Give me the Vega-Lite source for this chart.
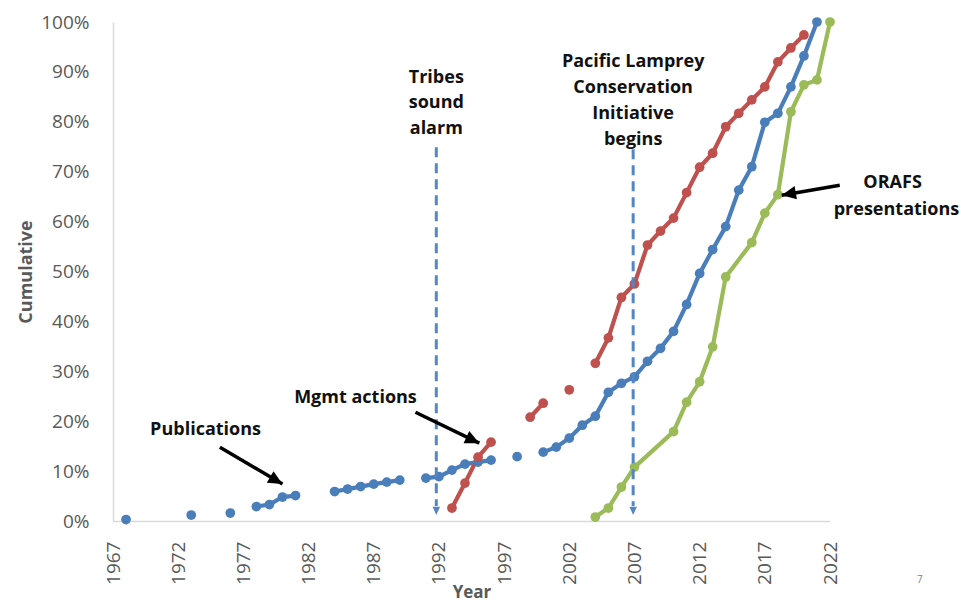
{
  "$schema": "https://vega.github.io/schema/vega-lite/v6.json",
  "width": 717,
  "height": 499,
  "autosize": "none",
  "padding": {"left": 113, "top": 22, "right": 131, "bottom": 81},
  "background": "white",
  "config": {"view": {"stroke": null}, "font": "Open Sans"},
  "datasets": {
    "series": [
      {"series": "Publications", "seg": "a", "year": 1968, "value": 0.3},
      {"series": "Publications", "seg": "b", "year": 1973, "value": 1.2},
      {"series": "Publications", "seg": "c", "year": 1976, "value": 1.6},
      {"series": "Publications", "seg": "d", "year": 1978, "value": 2.9},
      {"series": "Publications", "seg": "d", "year": 1979, "value": 3.3},
      {"series": "Publications", "seg": "d", "year": 1980, "value": 4.8},
      {"series": "Publications", "seg": "d", "year": 1981, "value": 5.1},
      {"series": "Publications", "seg": "e", "year": 1984, "value": 5.9},
      {"series": "Publications", "seg": "e", "year": 1985, "value": 6.4},
      {"series": "Publications", "seg": "e", "year": 1986, "value": 6.9},
      {"series": "Publications", "seg": "e", "year": 1987, "value": 7.4},
      {"series": "Publications", "seg": "e", "year": 1988, "value": 7.8},
      {"series": "Publications", "seg": "e", "year": 1989, "value": 8.2},
      {"series": "Publications", "seg": "f", "year": 1991, "value": 8.6},
      {"series": "Publications", "seg": "f", "year": 1992, "value": 8.9},
      {"series": "Publications", "seg": "f", "year": 1993, "value": 10.2},
      {"series": "Publications", "seg": "f", "year": 1994, "value": 11.4},
      {"series": "Publications", "seg": "f", "year": 1995, "value": 11.8},
      {"series": "Publications", "seg": "f", "year": 1996, "value": 12.2},
      {"series": "Publications", "seg": "g", "year": 1998, "value": 12.9},
      {"series": "Publications", "seg": "h", "year": 2000, "value": 13.8},
      {"series": "Publications", "seg": "h", "year": 2001, "value": 14.8},
      {"series": "Publications", "seg": "h", "year": 2002, "value": 16.6},
      {"series": "Publications", "seg": "h", "year": 2003, "value": 19.2},
      {"series": "Publications", "seg": "h", "year": 2004, "value": 21.0},
      {"series": "Publications", "seg": "h", "year": 2005, "value": 25.8},
      {"series": "Publications", "seg": "h", "year": 2006, "value": 27.6},
      {"series": "Publications", "seg": "h", "year": 2007, "value": 28.9},
      {"series": "Publications", "seg": "h", "year": 2008, "value": 32.0},
      {"series": "Publications", "seg": "h", "year": 2009, "value": 34.6},
      {"series": "Publications", "seg": "h", "year": 2010, "value": 38.0},
      {"series": "Publications", "seg": "h", "year": 2011, "value": 43.4},
      {"series": "Publications", "seg": "h", "year": 2012, "value": 49.6},
      {"series": "Publications", "seg": "h", "year": 2013, "value": 54.4},
      {"series": "Publications", "seg": "h", "year": 2014, "value": 59.0},
      {"series": "Publications", "seg": "h", "year": 2015, "value": 66.3},
      {"series": "Publications", "seg": "h", "year": 2016, "value": 71.0},
      {"series": "Publications", "seg": "h", "year": 2017, "value": 79.9},
      {"series": "Publications", "seg": "h", "year": 2018, "value": 81.7},
      {"series": "Publications", "seg": "h", "year": 2019, "value": 87.0},
      {"series": "Publications", "seg": "h", "year": 2020, "value": 93.2},
      {"series": "Publications", "seg": "h", "year": 2021, "value": 100},
      {"series": "Mgmt actions", "seg": "a", "year": 1993, "value": 2.6},
      {"series": "Mgmt actions", "seg": "a", "year": 1994, "value": 7.6},
      {"series": "Mgmt actions", "seg": "a", "year": 1995, "value": 12.8},
      {"series": "Mgmt actions", "seg": "a", "year": 1996, "value": 15.8},
      {"series": "Mgmt actions", "seg": "b", "year": 1999, "value": 20.8},
      {"series": "Mgmt actions", "seg": "b", "year": 2000, "value": 23.6},
      {"series": "Mgmt actions", "seg": "c", "year": 2002, "value": 26.3},
      {"series": "Mgmt actions", "seg": "d", "year": 2004, "value": 31.6},
      {"series": "Mgmt actions", "seg": "d", "year": 2005, "value": 36.7},
      {"series": "Mgmt actions", "seg": "d", "year": 2006, "value": 44.8},
      {"series": "Mgmt actions", "seg": "d", "year": 2007, "value": 47.5},
      {"series": "Mgmt actions", "seg": "d", "year": 2008, "value": 55.3},
      {"series": "Mgmt actions", "seg": "d", "year": 2009, "value": 58.1},
      {"series": "Mgmt actions", "seg": "d", "year": 2010, "value": 60.7},
      {"series": "Mgmt actions", "seg": "d", "year": 2011, "value": 65.8},
      {"series": "Mgmt actions", "seg": "d", "year": 2012, "value": 70.9},
      {"series": "Mgmt actions", "seg": "d", "year": 2013, "value": 73.7},
      {"series": "Mgmt actions", "seg": "d", "year": 2014, "value": 79.0},
      {"series": "Mgmt actions", "seg": "d", "year": 2015, "value": 81.7},
      {"series": "Mgmt actions", "seg": "d", "year": 2016, "value": 84.4},
      {"series": "Mgmt actions", "seg": "d", "year": 2017, "value": 87.0},
      {"series": "Mgmt actions", "seg": "d", "year": 2018, "value": 92.0},
      {"series": "Mgmt actions", "seg": "d", "year": 2019, "value": 94.8},
      {"series": "Mgmt actions", "seg": "d", "year": 2020, "value": 97.4},
      {"series": "ORAFS presentations", "seg": "a", "year": 2004, "value": 0.8},
      {"series": "ORAFS presentations", "seg": "a", "year": 2005, "value": 2.6},
      {"series": "ORAFS presentations", "seg": "a", "year": 2006, "value": 6.8},
      {"series": "ORAFS presentations", "seg": "a", "year": 2007, "value": 10.8},
      {"series": "ORAFS presentations", "seg": "a", "year": 2010, "value": 17.9},
      {"series": "ORAFS presentations", "seg": "a", "year": 2011, "value": 23.8},
      {"series": "ORAFS presentations", "seg": "a", "year": 2012, "value": 27.9},
      {"series": "ORAFS presentations", "seg": "a", "year": 2013, "value": 34.9},
      {"series": "ORAFS presentations", "seg": "a", "year": 2014, "value": 48.9},
      {"series": "ORAFS presentations", "seg": "a", "year": 2016, "value": 55.8},
      {"series": "ORAFS presentations", "seg": "a", "year": 2017, "value": 61.7},
      {"series": "ORAFS presentations", "seg": "a", "year": 2018, "value": 65.4},
      {"series": "ORAFS presentations", "seg": "a", "year": 2019, "value": 82.0},
      {"series": "ORAFS presentations", "seg": "a", "year": 2020, "value": 87.4},
      {"series": "ORAFS presentations", "seg": "a", "year": 2021, "value": 88.4},
      {"series": "ORAFS presentations", "seg": "a", "year": 2022, "value": 100}
    ],
    "events": [
      {"event": "Tribes sound alarm", "year": 1991.8, "value": 74.9, "value2": 3.0, "tip": 1.2},
      {"event": "Pacific Lamprey Conservation Initiative begins", "year": 2006.9, "value": 74.5, "value2": 3.0, "tip": 1.2}
    ],
    "arrows": [
      {"arrow": "Publications", "year": 1975.2, "value": 14.8, "year2": 1980.0, "value2": 7.4},
      {"arrow": "Mgmt actions", "year": 1990.2, "value": 21.8, "year2": 1995.1, "value2": 15.6},
      {"arrow": "ORAFS presentations", "year": 2022.75, "value": 67.3, "year2": 2018.3, "value2": 65.3}
    ],
    "labels": [
      {"text": "Tribes", "year": 1991.8, "value": 88.8},
      {"text": "sound", "year": 1991.8, "value": 83.8},
      {"text": "alarm", "year": 1991.8, "value": 78.6},
      {"text": "Pacific Lamprey", "year": 2006.9, "value": 92.0},
      {"text": "Conservation", "year": 2006.9, "value": 86.8},
      {"text": "Initiative", "year": 2006.9, "value": 81.5},
      {"text": "begins", "year": 2006.9, "value": 76.4},
      {"text": "Publications", "year": 1974.1, "value": 18.2},
      {"text": "Mgmt actions", "year": 1985.6, "value": 24.6},
      {"text": "ORAFS", "year": 2026.8, "value": 67.7},
      {"text": "presentations", "year": 2027.1, "value": 62.3}
    ]
  },
  "layer": [
    {
      "data": {"name": "series"},
      "mark": {"type": "line", "strokeWidth": 4.2},
      "encoding": {
        "x": {
          "field": "year", "type": "quantitative",
          "scale": {"domain": [1967, 2022], "nice": false, "zero": false},
          "axis": {
            "values": [1967, 1972, 1977, 1982, 1987, 1992, 1997, 2002, 2007, 2012, 2017, 2022],
            "format": "d", "labelAngle": -90, "labelFontSize": 19, "labelColor": "#595959",
            "labelPadding": 20, "ticks": false, "grid": false, "domainColor": "#D9D9D9", "domainWidth": 1.5,
            "title": "Year", "titleFontSize": 17, "titleFontWeight": "bold", "titleColor": "#595959",
            "titlePadding": 0, "labelOverlap": false, "labelFlush": false
          }
        },
        "y": {
          "field": "value", "type": "quantitative",
          "scale": {"domain": [0, 100], "nice": false},
          "axis": {
            "values": [0, 10, 20, 30, 40, 50, 60, 70, 80, 90, 100],
            "labelExpr": "datum.value + '%'", "labelFontSize": 19, "labelColor": "#595959",
            "labelPadding": 24, "ticks": false, "grid": false, "domainColor": "#D9D9D9", "domainWidth": 1.5,
            "title": "Cumulative", "titleFontSize": 18, "titleFontWeight": "bold", "titleColor": "#595959",
            "titlePadding": 5, "labelOverlap": false, "labelFlush": false
          }
        },
        "color": {
          "field": "series", "type": "nominal",
          "scale": {"domain": ["Publications", "Mgmt actions", "ORAFS presentations"], "range": ["#4A7EBB", "#C0504D", "#9BBB59"]},
          "legend": null
        },
        "detail": {"field": "seg"}
      }
    },
    {
      "data": {"name": "series"},
      "mark": {"type": "point", "filled": true, "opacity": 1, "size": 95},
      "encoding": {
        "x": {"field": "year", "type": "quantitative"},
        "y": {"field": "value", "type": "quantitative"},
        "color": {"field": "series", "type": "nominal", "legend": null}
      }
    },
    {
      "data": {"name": "events"},
      "mark": {"type": "rule", "color": "#5585C5", "strokeWidth": 3, "strokeDash": [10, 6]},
      "encoding": {
        "x": {"field": "year", "type": "quantitative"},
        "y": {"field": "value", "type": "quantitative"},
        "y2": {"field": "value2"}
      }
    },
    {
      "data": {"name": "events"},
      "mark": {"type": "point", "shape": "M0,0L-0.9,2L0.9,2Z", "filled": true, "opacity": 1, "color": "#5585C5", "size": 70, "angle": 180},
      "encoding": {
        "x": {"field": "year", "type": "quantitative"},
        "y": {"field": "tip", "type": "quantitative"}
      }
    },
    {
      "data": {"name": "arrows"},
      "mark": {"type": "rule", "color": "#000000", "strokeWidth": 3.5},
      "encoding": {
        "x": {"field": "year", "type": "quantitative"},
        "y": {"field": "value", "type": "quantitative"},
        "x2": {"field": "year2"},
        "y2": {"field": "value2"}
      }
    },
    {
      "data": {"name": "arrows"},
      "transform": [{"filter": "datum.arrow == 'Publications'"}],
      "mark": {"type": "point", "shape": "M0,0L-0.85,1.8L0.85,1.8Z", "filled": true, "opacity": 1, "color": "#000000", "size": 250, "angle": 120},
      "encoding": {
        "x": {"field": "year2", "type": "quantitative"},
        "y": {"field": "value2", "type": "quantitative"}
      }
    },
    {
      "data": {"name": "arrows"},
      "transform": [{"filter": "datum.arrow == 'Mgmt actions'"}],
      "mark": {"type": "point", "shape": "M0,0L-0.85,1.8L0.85,1.8Z", "filled": true, "opacity": 1, "color": "#000000", "size": 250, "angle": 115},
      "encoding": {
        "x": {"field": "year2", "type": "quantitative"},
        "y": {"field": "value2", "type": "quantitative"}
      }
    },
    {
      "data": {"name": "arrows"},
      "transform": [{"filter": "datum.arrow == 'ORAFS presentations'"}],
      "mark": {"type": "point", "shape": "M0,0L-0.85,1.8L0.85,1.8Z", "filled": true, "opacity": 1, "color": "#000000", "size": 250, "angle": 260},
      "encoding": {
        "x": {"field": "year2", "type": "quantitative"},
        "y": {"field": "value2", "type": "quantitative"}
      }
    },
    {
      "data": {"name": "labels"},
      "mark": {"type": "text", "font": "Open Sans", "fontWeight": "bold", "fontSize": 18, "color": "#111111", "align": "center", "baseline": "middle"},
      "encoding": {
        "x": {"field": "year", "type": "quantitative"},
        "y": {"field": "value", "type": "quantitative"},
        "text": {"field": "text"}
      }
    },
    {
      "data": {"values": [{"text": "7", "year": 2028.9, "value": -11.8}]},
      "mark": {"type": "text", "fontSize": 10, "color": "#7F7F7F", "align": "center", "baseline": "middle"},
      "encoding": {
        "x": {"field": "year", "type": "quantitative"},
        "y": {"field": "value", "type": "quantitative"},
        "text": {"field": "text"}
      }
    }
  ]
}
